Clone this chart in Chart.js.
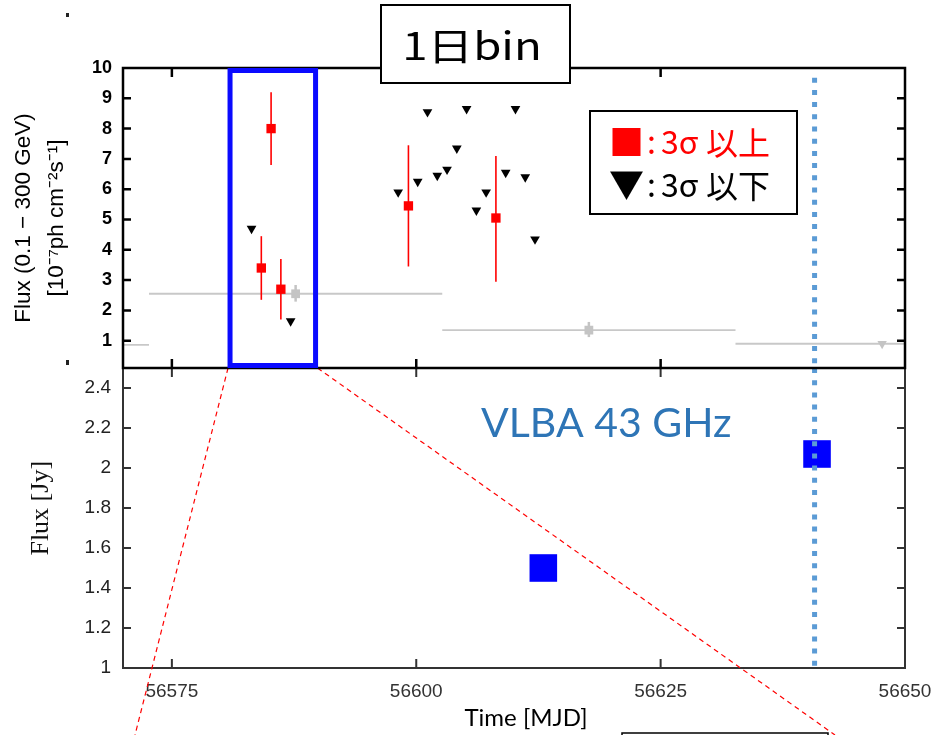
<!DOCTYPE html>
<html>
<head>
<meta charset="utf-8">
<script src="https://cdn.jsdelivr.net/npm/chart.js@4.4.0/dist/chart.umd.min.js"></script>
<style>
    html, body { margin: 0; padding: 0; background: #ffffff; }
    #wrap { position: relative; width: 933px; height: 735px; overflow: hidden; background: #ffffff; }
    #wrap canvas { position: absolute; left: 0; top: 0; }
</style>
</head>
<body>
<div id="wrap">
    <canvas id="radioChart" width="933" height="735"></canvas>
    <canvas id="gammaChart" width="933" height="735"></canvas>
</div>
<script>
// Shared time axis (MJD)
const xMin = 56570;
const xMax = 56650;
const xTicks = [56575, 56600, 56625, 56650];

// Fermi-LAT 1-day bins: detections (> 3 sigma) with error bars
const detMjd = [56584.15, 56585.15, 56586.15, 56599.2, 56608.15];
const detFlux = [3.4, 8.0, 2.7, 5.45, 5.05];
const detLow = [2.35, 6.8, 1.7, 3.45, 2.95];
const detHigh = [4.45, 9.2, 3.7, 7.45, 7.1];

// Fermi-LAT 1-day bins: upper limits (< 3 sigma)
const ulMjd = [56583.15, 56587.15, 56598.15, 56600.15, 56601.15, 56602.15, 56603.15, 56604.15,
               56605.15, 56606.15, 56607.15, 56609.15, 56610.15, 56611.15, 56612.15];
const ulFlux = [4.7, 1.65, 5.9, 6.25, 8.55, 6.45, 6.65, 7.35, 8.65, 5.3, 5.9, 6.55, 8.65, 6.4, 4.35];

// Fermi-LAT 30-day bins (grey)
const binMjd = [56557.66, 56587.66, 56617.66, 56647.66];
const binHalfWidth = 15;
const binFlux = [0.86, 2.55, 1.35, 0.9];
const binLow = [null, 2.29, 1.12, null];
const binHigh = [null, 2.84, 1.62, null];
const binIsLimit = [true, false, false, true];

// VLBA 43 GHz core flux
const vlbaMjd = [56613.0, 56641.0];
const vlbaFlux = [1.5, 2.07];

// Tick values
const gammaTicks = [1, 2, 3, 4, 5, 6, 7, 8, 9, 10];
const radioTicks = [1, 1.2, 1.4, 1.6, 1.8, 2, 2.2, 2.4];

// Highlighted interval and VLBA epoch marker
const zoomMjd = [56580.95, 56589.7];
const markerMjd = 56640.75;

const AXIS_FONT = "'Liberation Sans', Arial, sans-serif";
const CJK_FONT = "'Noto Sans CJK JP', sans-serif";

Chart.defaults.animation = false;
Chart.defaults.events = [];
Chart.defaults.plugins.legend.display = false;
Chart.defaults.plugins.tooltip.enabled = false;

function segment(x0, y0, x1, y1, color, width) {
    return {
        data: [{x: x0, y: y0}, {x: x1, y: y1}],
        showLine: true,
        borderColor: color,
        borderWidth: width,
        pointRadius: 0
    };
}

// keep the x axis from reserving room for its edge labels
function fixXAxis(height) {
    return s => {
        s.height = height;
        s.paddingLeft = 0;
        s.paddingRight = 0;
    };
}

// draws frame and inward tick marks like the original gnuplot panels
function frameAndTicks(id, color, width, xLen, yLen) {
    return {
        id: id,
        afterDatasetsDraw(chart) {
            const {ctx, chartArea: a, scales: {x, y}} = chart;
            ctx.save();
            ctx.strokeStyle = color;
            ctx.lineWidth = width;
            ctx.beginPath();
            x.ticks.forEach(t => {
                const px = x.getPixelForValue(t.value);
                if (px <= a.left + 2 || px >= a.right - 2) return;
                ctx.moveTo(px, a.bottom); ctx.lineTo(px, a.bottom - xLen);
                ctx.moveTo(px, a.top); ctx.lineTo(px, a.top + xLen);
            });
            y.ticks.forEach(t => {
                const py = y.getPixelForValue(t.value);
                if (py <= a.top + 2 || py >= a.bottom - 2) return;
                ctx.moveTo(a.left, py); ctx.lineTo(a.left + yLen, py);
                ctx.moveTo(a.right, py); ctx.lineTo(a.right - yLen, py);
            });
            ctx.stroke();
            ctx.strokeRect(a.left, a.top, a.right - a.left, a.bottom - a.top);
            ctx.restore();
        }
    };
}

// ---------- top panel: gamma-ray light curve ----------
const gammaDatasets = [];
gammaDatasets.push({
    data: [{x: markerMjd, y: 9.68}, {x: markerMjd, y: 0.1}],
    showLine: true,
    borderColor: '#5b9bd5',
    borderWidth: 5,
    borderDash: [5, 7.2],
    pointRadius: 0
});
gammaDatasets.push({
    data: detMjd.map((m, i) => ({x: m, y: detFlux[i]})),
    pointStyle: 'rect',
    pointRadius: 6.6,
    pointBackgroundColor: '#ff0000',
    pointBorderWidth: 0
});
detMjd.forEach((m, i) => gammaDatasets.push(segment(m, detLow[i], m, detHigh[i], '#ff0000', 1.6)));
gammaDatasets.push({
    data: ulMjd.map((m, i) => ({x: m, y: ulFlux[i]})),
    pointStyle: 'triangle',
    pointRotation: 180,
    pointRadius: 5.6,
    pointBackgroundColor: '#000000',
    pointBorderWidth: 0
});
gammaDatasets.push({
    data: binMjd.map((m, i) => binIsLimit[i] ? null : {x: m, y: binFlux[i]}).filter(p => p),
    pointStyle: 'rect',
    pointRadius: 6.2,
    pointBackgroundColor: '#c4c4c4',
    pointBorderWidth: 0
});
gammaDatasets.push({
    data: binMjd.map((m, i) => binIsLimit[i] ? {x: m, y: binFlux[i]} : null).filter(p => p),
    pointStyle: 'triangle',
    pointRotation: 180,
    pointRadius: 5.4,
    pointBackgroundColor: '#c4c4c4',
    pointBorderWidth: 0
});
binMjd.forEach((m, i) => {
    gammaDatasets.push(segment(m - binHalfWidth, binFlux[i], m + binHalfWidth, binFlux[i], '#c8c8c8', 1.8));
    if (binLow[i] !== null) gammaDatasets.push(segment(m, binLow[i], m, binHigh[i], '#c4c4c4', 2.5));
});

const gammaOverlay = {
    id: 'gammaOverlay',
    afterDraw(chart) {
        const {ctx, chartArea: a, scales: {x}} = chart;
        ctx.save();
        // highlighted interval
        const x0 = x.getPixelForValue(zoomMjd[0]);
        const x1 = x.getPixelForValue(zoomMjd[1]);
        ctx.strokeStyle = '#0a0aff';
        ctx.lineWidth = 5;
        ctx.strokeRect(x0, a.top + 2.5, x1 - x0, a.bottom - a.top - 5);

        // title box
        ctx.fillStyle = '#ffffff';
        ctx.fillRect(381, 5, 189, 78);
        ctx.strokeStyle = '#000000';
        ctx.lineWidth = 2;
        ctx.strokeRect(381, 5, 189, 78);
        ctx.fillStyle = '#000000';
        ctx.textBaseline = 'middle';
        ctx.textAlign = 'center';
        ctx.save();
        ctx.translate(472, 46);
        ctx.scale(1.2, 1);
        ctx.font = '38px ' + CJK_FONT;
        ctx.fillText('1日bin', 0, 0);
        ctx.restore();

        // legend box
        ctx.fillStyle = '#ffffff';
        ctx.fillRect(590, 111, 207, 103);
        ctx.strokeStyle = '#000000';
        ctx.lineWidth = 2;
        ctx.strokeRect(590, 111, 207, 103);
        ctx.textAlign = 'left';
        const rows = [['■', '以上', '#ff0000', 142], ['▼', '以下', '#000000', 185]];
        rows.forEach(([mark, word, color, cy]) => {
            ctx.fillStyle = color;
            ctx.font = '35px ' + CJK_FONT;
            ctx.fillText(mark, 609, cy);
            ctx.font = '32px ' + CJK_FONT;
            ctx.fillText(':', 647, cy);
            ctx.fillText('3σ', 661, cy);
            ctx.fillText(word, 706, cy + 1);
        });

        // stray marks from the slide
        ctx.fillStyle = '#222222';
        ctx.fillRect(66, 13, 3, 4);
        ctx.fillRect(66, 360, 3, 5);
        ctx.restore();
    }
};

new Chart(document.getElementById('gammaChart'), {
    type: 'scatter',
    data: {datasets: gammaDatasets},
    options: {
        responsive: false,
        layout: {padding: {top: 68, right: 28, left: 0, bottom: 0}},
        scales: {
            x: {
                type: 'linear',
                min: xMin,
                max: xMax,
                afterBuildTicks: s => { s.ticks = xTicks.map(v => ({value: v})); },
                afterFit: fixXAxis(735 - 368),
                ticks: {display: false},
                grid: {display: false, drawTicks: false},
                border: {display: false}
            },
            y: {
                min: 0.1,
                max: 10,
                afterBuildTicks: s => { s.ticks = gammaTicks.map(v => ({value: v})); },
                afterFit: s => { s.width = 123; },
                ticks: {
                    padding: 11,
                    color: '#000000',
                    font: {family: AXIS_FONT, size: 18, weight: 'bold'}
                },
                grid: {display: false, drawTicks: false},
                border: {display: false},
                title: {
                    display: true,
                    text: ['Flux (0.1 \u2212 300 GeV)', '[10\u207B\u2077ph cm\u207B\u00B2s\u207B\u00B9]'],
                    color: '#000000',
                    font: {family: AXIS_FONT, size: 22.5, lineHeight: 1.48},
                    padding: {top: 7, bottom: 0}
                }
            }
        }
    },
    plugins: [frameAndTicks('gammaFrame', '#000000', 2.5, 9, 8), gammaOverlay]
});

// ---------- bottom panel: VLBA 43 GHz ----------
const radioOverlay = {
    id: 'radioOverlay',
    afterDraw(chart) {
        const {ctx, chartArea: a, scales: {x}} = chart;
        ctx.save();
        // zoom guide lines from the highlighted interval
        ctx.strokeStyle = '#ff0000';
        ctx.lineWidth = 1.2;
        ctx.setLineDash([5, 4]);
        ctx.beginPath();
        ctx.moveTo(x.getPixelForValue(zoomMjd[0]) - 2, a.top);
        ctx.lineTo(135, 735);
        ctx.moveTo(x.getPixelForValue(zoomMjd[1]) + 2, a.top);
        ctx.lineTo(835, 735);
        ctx.stroke();
        ctx.setLineDash([]);
        // edge of the next slide box
        ctx.strokeStyle = '#000000';
        ctx.lineWidth = 1.5;
        ctx.strokeRect(622, 733, 206, 20);
        // label
        ctx.fillStyle = '#2e75b6';
        ctx.font = "41px Lato, 'Open Sans', sans-serif";
        ctx.textAlign = 'left';
        ctx.textBaseline = 'middle';
        ctx.fillText('VLBA 43 GHz', 481, 424);
        ctx.restore();
    }
};

new Chart(document.getElementById('radioChart'), {
    type: 'scatter',
    data: {
        datasets: [
            {
                data: [{x: markerMjd, y: 2.5}, {x: markerMjd, y: 1}],
                showLine: true,
                borderColor: '#5b9bd5',
                borderWidth: 5,
                borderDash: [5, 7.2],
                pointRadius: 0
            },
            {
                data: vlbaMjd.map((m, i) => ({x: m, y: vlbaFlux[i]})),
                pointStyle: 'rect',
                pointRadius: 19.5,
                pointBackgroundColor: '#0000ff',
                pointBorderWidth: 0
            }
        ]
    },
    options: {
        responsive: false,
        layout: {padding: {top: 368, right: 28, left: 0, bottom: 0}},
        scales: {
            x: {
                type: 'linear',
                min: xMin,
                max: xMax,
                afterBuildTicks: s => { s.ticks = xTicks.map(v => ({value: v})); },
                afterFit: fixXAxis(735 - 668),
                ticks: {
                    padding: 12,
                    color: '#333333',
                    maxRotation: 0,
                    font: {family: AXIS_FONT, size: 19},
                    callback: v => String(v)
                },
                grid: {display: false, drawTicks: false},
                border: {display: false},
                title: {
                    display: true,
                    text: '\u2003 Time [MJD]',
                    color: '#000000',
                    font: {family: "Lato, 'Open Sans', sans-serif", size: 24},
                    padding: {top: 0, bottom: 2}
                }
            },
            y: {
                min: 1,
                max: 2.5,
                afterBuildTicks: s => { s.ticks = radioTicks.map(v => ({value: v})); },
                afterFit: s => { s.width = 123; },
                ticks: {
                    padding: 12,
                    color: '#222222',
                    font: {family: AXIS_FONT, size: 19},
                    callback: v => String(Math.round(v * 10) / 10)
                },
                grid: {display: false, drawTicks: false},
                border: {display: false},
                title: {
                    display: true,
                    text: '\u2002 Flux [Jy]',
                    color: '#111111',
                    font: {family: "'Liberation Serif', 'DejaVu Serif', serif", size: 26},
                    padding: {top: 26, bottom: 0}
                }
            }
        }
    },
    plugins: [frameAndTicks('radioFrame', '#333333', 2, 9, 8), radioOverlay]
});
</script>
</body>
</html>
